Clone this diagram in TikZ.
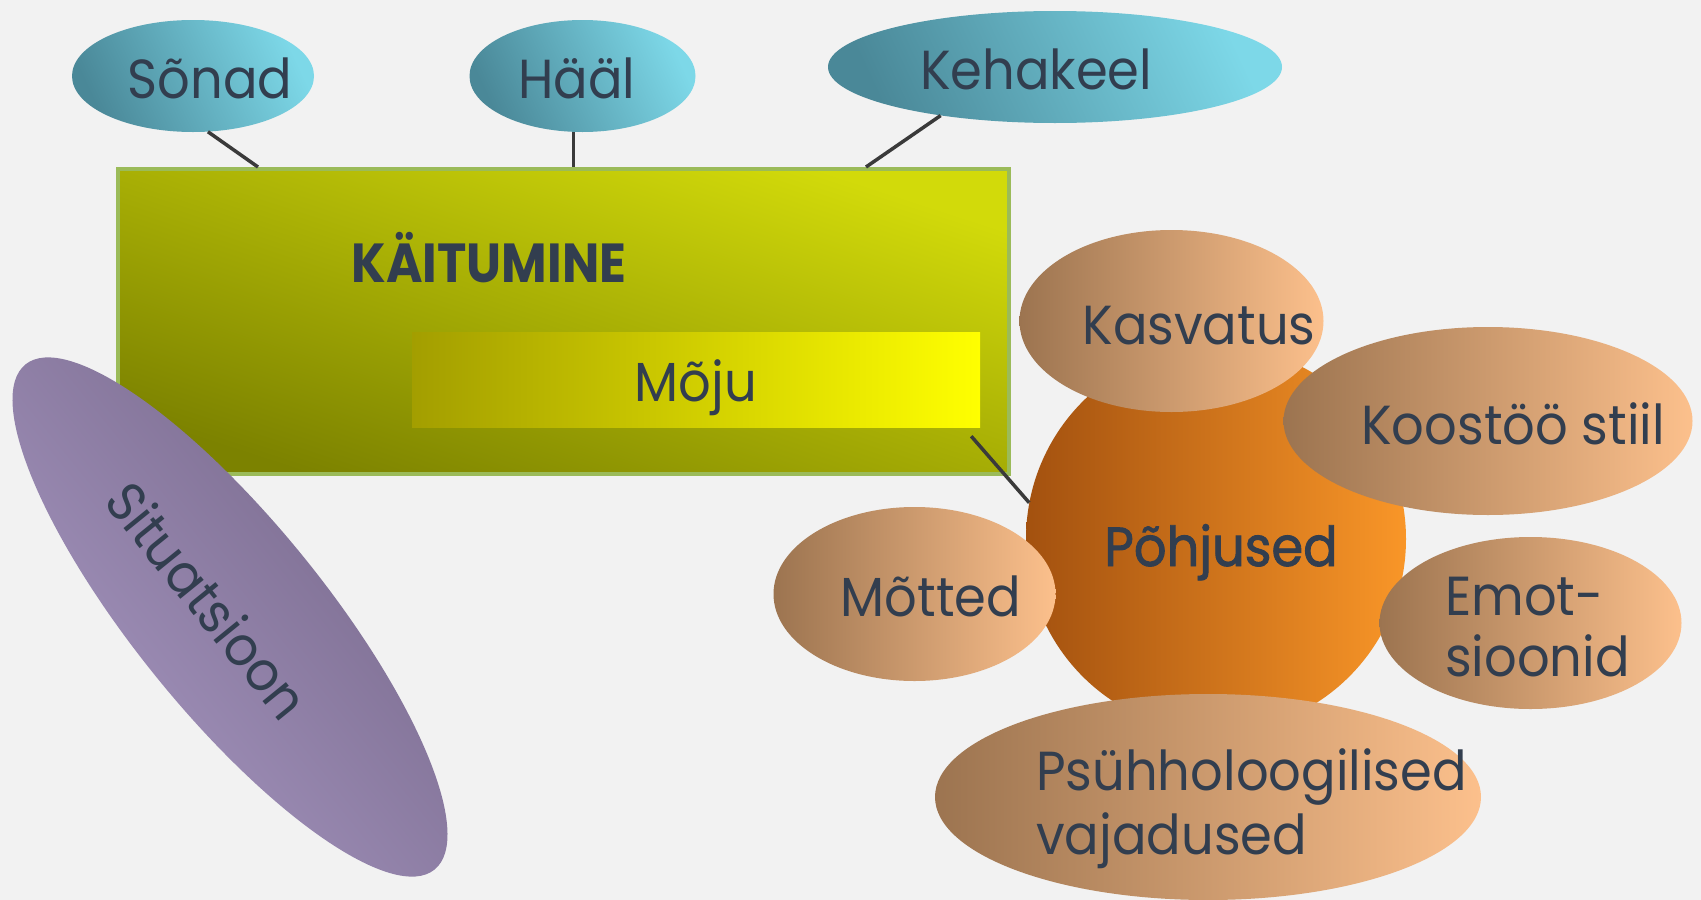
\documentclass[tikz,border=0pt]{standalone}
\usepackage{fontspec}
\setmainfont{Poppins}[FakeStretch=0.93]
\newfontfamily\medfont{Poppins}[FakeStretch=0.93, FakeBold=1.6]
\usetikzlibrary{shapes.geometric}
\definecolor{bg}{HTML}{F2F2F2}
\definecolor{txt}{HTML}{323E4F}
\definecolor{tealD}{HTML}{4A8898}
\definecolor{tealL}{HTML}{7DD8E8}
\definecolor{grnD}{HTML}{7C8200}
\definecolor{grnL}{HTML}{D2DA0A}
\definecolor{grnB}{HTML}{9BBB59}
\definecolor{yelD}{HTML}{A39E00}
\definecolor{yelM}{HTML}{DCDC00}
\definecolor{yelL}{HTML}{FFFF00}
\definecolor{pchD}{HTML}{9C7450}
\definecolor{pchL}{HTML}{FCC08C}
\definecolor{orD}{HTML}{A3510F}
\definecolor{orL}{HTML}{F99628}
\definecolor{purL}{HTML}{A999C4}
\definecolor{purD}{HTML}{746587}
\definecolor{lineC}{HTML}{3A3A3A}
\begin{document}
\begin{tikzpicture}[x=1pt,y=-1pt,
  lbl/.style={text=txt, font=\fontsize{55}{64}\selectfont, inner sep=0pt, anchor=base},
  blob/.style={ellipse, inner sep=0pt, draw=none},
  teal/.style={blob, top color=tealL, bottom color=tealD, shading angle=-65},
  peach/.style={blob, left color=pchD, right color=pchL},
  conn/.style={draw=lineC, line width=3.5pt}]
\fill[bg] (0,0) rectangle (1701,900);
\useasboundingbox (0,0) rectangle (1701,900);

% top ellipses
\node[teal, minimum width=242pt, minimum height=112pt] (sonad) at (193,76) {};
\node[lbl] (sonadT) at (210,98) {Sõnad};
\node[teal, minimum width=226pt, minimum height=112pt] (haal) at (582.5,76) {};
\node[lbl] (haalT) at (577,98) {Hääl};
\node[teal, minimum width=454pt, minimum height=112pt] (keha) at (1055,67) {};
\node[lbl] (kehaT) at (1036,89) {Kehakeel};

% behaviour box
\node[draw=grnB, line width=4pt, inner sep=0pt, minimum width=891pt, minimum height=305pt,
      top color=grnL, bottom color=grnD, shading angle=-18] (kait) at (563.5,321.5) {};
\node[lbl, font=\fontsize{55}{64}\selectfont\bfseries] (kaitT) at (489,282) {\scalebox{0.97}[1]{KÄITUMINE}};
\node[inner sep=0pt, minimum width=568pt, minimum height=95pt,
      left color=yelD, middle color=yelM, right color=yelL] (moju) at (696,379.5) {};
\node[lbl] (mojuT) at (696,401) {Mõju};

% causes
\node[blob, minimum width=380pt, minimum height=386pt, left color=orD, right color=orL] (pohj) at (1216,539) {};
\node[lbl, font=\fontsize{55}{64}\medfont] (pohjT) at (1221,566) {Põhjused};
\node[peach, minimum width=304pt, minimum height=182pt] (kasv) at (1171.5,321) {};
\node[lbl] (kasvT) at (1199,344) {Kasvatus};
\node[peach, minimum width=409pt, minimum height=188pt] (koos) at (1488,421) {};
\node[lbl] (koosT) at (1513,444) {Koostöö stiil};
\node[peach, minimum width=282pt, minimum height=174pt] (motted) at (914.5,594) {};
\node[lbl] (mottedT) at (931,616) {Mõtted};
\node[peach, minimum width=302pt, minimum height=172pt] (emot) at (1530.5,623) {};
\node[lbl, anchor=base west, align=left, font=\fontsize{55}{61}\selectfont] (emotT) at (1445,676) {Emot-\\sioonid};
\node[peach, minimum width=546pt, minimum height=206pt] (psyh) at (1208,797) {};
\node[lbl, anchor=base west, align=left] (psyhT) at (1036,854) {Psühholoogilised\\vajadused};

% situation
\node[blob, rotate=-51, minimum width=650pt, minimum height=190pt,
      top color=purD, bottom color=purL, shading angle=-51] (sit) at (230,617) {};
\node[lbl, anchor=center, rotate=-51] (sitT) at (208,600) {Situatsioon};

% connectors
\coordinate (haalB) at ([xshift=-9pt]haal.south);
\draw[conn] (sonad.-75) -- ([xshift=142pt]kait.north west);
\draw[conn] (haalB) -- (haalB |- kait.north);
\draw[conn] (keha.203) -- ([xshift=750pt]kait.north west);
\draw[conn] ([xshift=-9pt,yshift=-9pt]moju.south east) -- (pohj.169);
\end{tikzpicture}
\end{document}
